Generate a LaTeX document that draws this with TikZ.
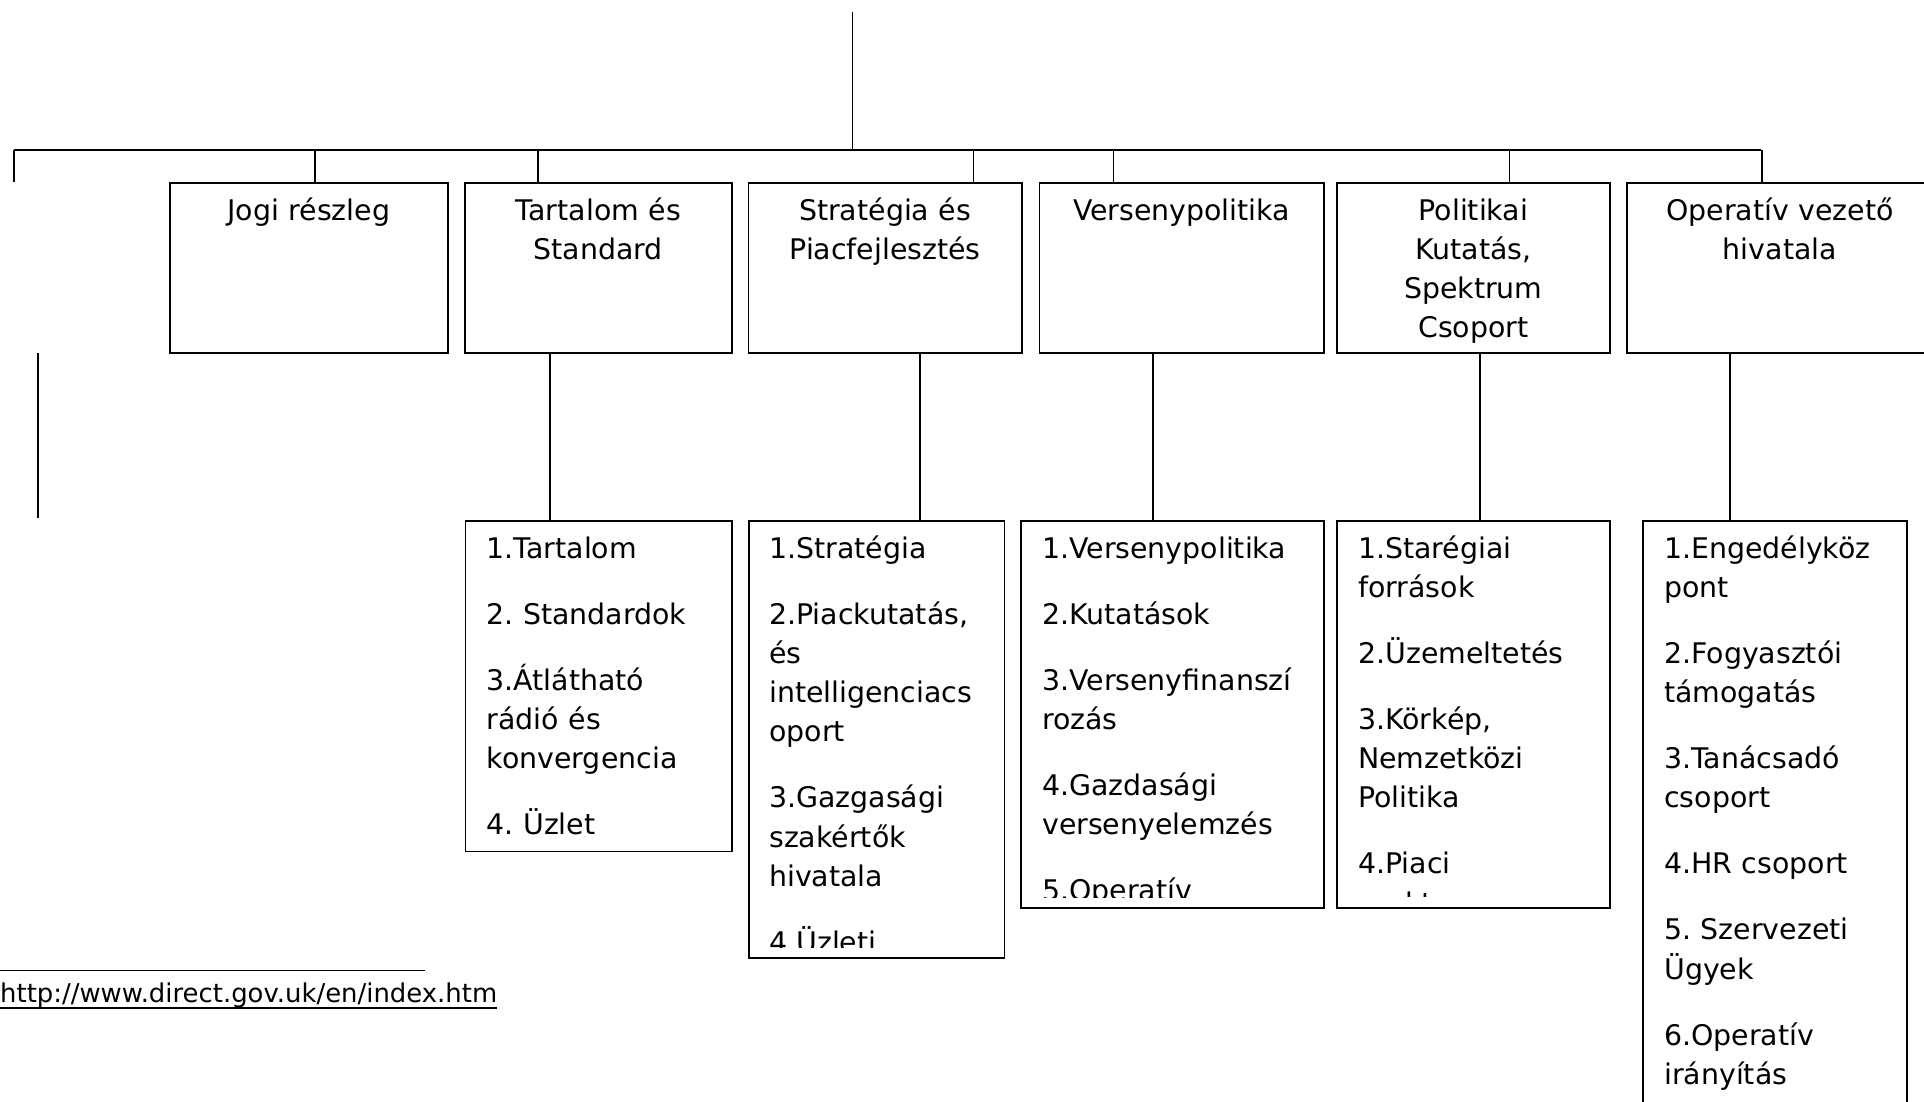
\documentclass[tikz,border=0pt]{standalone}
\usepackage{fontspec}
\setmainfont{DejaVu Sans}
\begin{document}
\frenchspacing
\begin{tikzpicture}[x=1pt,y=-1pt,
  box/.style={draw, line width=1.7pt, inner sep=0pt, anchor=north west},
  head/.style={anchor=base, text width=#1, align=center, inner sep=0pt,
    font=\fontsize{28.4}{39.3}\selectfont},
  list/.style={anchor=base west, text width=300pt, align=left, inner sep=0pt,
    font=\fontsize{28.4}{39.3}\selectfont},
  wire/.style={line width=1.7pt},
  trunk/.style={line width=1.2pt}]

\fill[white] (0,0) rectangle (1924,1101);
\clip (0,0) rectangle (1924,1101);

% ---- department boxes ----
\node[box, minimum width=278,   minimum height=170] (jogi)  at (169,182)   {};
\node[box, minimum width=267,   minimum height=170] (tart)  at (464,182)   {};
\node[box, minimum width=273.5, minimum height=170] (strat) at (747.5,182) {};
\node[box, minimum width=284.5, minimum height=170] (vers)  at (1038.5,182){};
\node[box, minimum width=273,   minimum height=170] (polit) at (1336,182)  {};
\node[box, minimum width=306,   minimum height=170] (oper)  at (1626,182)  {};

\node[head=278]   (jogiT)  at ([yshift=-38]jogi.north)  {Jogi részleg};
\node[head=267]   (tartT)  at ([yshift=-38]tart.north)  {Tartalom és\\Standard};
\node[head=273.5] (stratT) at ([yshift=-38]strat.north) {Stratégia és\\Piacfejlesztés};
\node[head=284.5] (versT)  at ([yshift=-38]vers.north)  {Versenypolitika};
\node[head=273]   (politT) at ([yshift=-38]polit.north) {Politikai\\Kutatás,\\Spektrum\\Csoport};
\node[head=306]   (operT)  at ([yshift=-38]oper.north)  {Operatív vezető\\hivatala};

% ---- sub-unit boxes ----
\node[box, minimum width=266.5, minimum height=330.5] (tartL)  at (464.5,520) {};
\node[box, minimum width=255.5, minimum height=437]   (stratL) at (748,520)   {};
\node[box, minimum width=303,   minimum height=387]   (versL)  at (1020,520)  {};
\node[box, minimum width=273,   minimum height=387]   (politL) at (1336,520)  {};
\node[box, minimum width=264,   minimum height=700]   (operL)  at (1642,520)  {};

\node[list] (tartX) at ([xshift=22,yshift=-38]tartL.north west)
  {1.Tartalom\\[26.7pt]2. Standardok\\[26.7pt]3.Átlátható\\rádió és\\konvergencia\\[26.7pt]4. Üzlet};

% lists that run past their frame are cut short above the frame's lower edge
\begin{scope}
  \clip (stratL.north west) rectangle ([yshift=11.5]stratL.south east);
  \node[list] (stratX) at ([xshift=21,yshift=-38]stratL.north west)
    {1.Stratégia\\[26.7pt]2.Piackutatás,\\és\\intelligenciacs\\oport\\[26.7pt]3.Gazgasági\\szakértők\\hivatala\\[26.7pt]4.Üzleti};
\end{scope}

\begin{scope}
  \clip (versL.north west) rectangle ([yshift=11.5]versL.south east);
  \node[list] (versX) at ([xshift=22,yshift=-38]versL.north west)
    {1.Versenypolitika\\[26.7pt]2.Kutatások\\[26.7pt]3.Versenyfinanszí\\rozás\\[26.7pt]4.Gazdasági\\versenyelemzés\\[26.7pt]5.Operatív};
\end{scope}

\begin{scope}
  \clip (politL.north west) rectangle ([yshift=12.5]politL.south east);
  \node[list] (politX) at ([xshift=22,yshift=-38]politL.north west)
    {1.Starégiai\\források\\[26.7pt]2.Üzemeltetés\\[26.7pt]3.Körkép,\\Nemzetközi\\Politika\\[26.7pt]4.Piaci\\szektor};
\end{scope}

\node[list] (operX) at ([xshift=22,yshift=-38]operL.north west)
  {1.Engedélyköz\\pont\\[26.7pt]2.Fogyasztói\\támogatás\\[26.7pt]3.Tanácsadó\\csoport\\[26.7pt]4.HR csoport\\[26.7pt]5. Szervezeti\\Ügyek\\[26.7pt]6.Operatív\\irányítás};

% ---- trunk and bus ----
\coordinate (top)  at (852.5,12);
\coordinate (bus)  at (852.5,150);
\coordinate (busL) at (14,150);
\coordinate (busR) at (1761,150);
\coordinate (stub) at (14,182);
\draw[trunk] (top) -- (bus);
\draw[wire] (busL) -- (busR);
\draw[wire] (busL) -- (stub);

% drops from the bus to each department
\draw[wire] ([xshift=6]jogi.north)      -- ([xshift=6]jogi.north |- bus);
\draw[wire] ([xshift=-60.5]tart.north)  -- ([xshift=-60.5]tart.north |- bus);
\draw[wire] ([xshift=88.25]strat.north) -- ([xshift=88.25]strat.north |- bus);
\draw[wire] ([xshift=-68.15]vers.north) -- ([xshift=-68.15]vers.north |- bus);
\draw[wire] ([xshift=36.1]polit.north)  -- ([xshift=36.1]polit.north |- bus);
\draw[wire] ([xshift=-18]oper.north)    -- ([xshift=-18]oper.north |- bus);

% links from departments to their sub-units
\draw[wire] ([xshift=-48.5]tart.south)  -- ([xshift=-48.5]tart.south |- tartL.north);
\draw[wire] ([xshift=34.75]strat.south) -- ([xshift=34.75]strat.south |- stratL.north);
\draw[wire] ([xshift=-28.75]vers.south) -- ([xshift=-28.75]vers.south |- versL.north);
\draw[wire] ([xshift=6.5]polit.south)   -- ([xshift=6.5]polit.south |- politL.north);
\draw[wire] ([xshift=-50]oper.south)    -- ([xshift=-50]oper.south |- operL.north);

% lone vertical rule on the left
\coordinate (sideA) at (37.7,353);
\coordinate (sideB) at (37.7,518);
\draw[wire] (sideA) -- (sideB);

% footnote rule and link
\coordinate (ruleA) at (0,970.5);
\coordinate (ruleB) at (425,970.5);
\draw[line width=1.6pt] (ruleA) -- (ruleB);
\node[anchor=base west, inner sep=0pt, font=\fontsize{25.9}{30}\selectfont] (url)
  at (0,1002.5) {http://www.direct.gov.uk/en/index.htm};
\draw[line width=1.6pt] ([yshift=-5.5]url.base west) -- ([yshift=-5.5]url.base east);

\end{tikzpicture}
\end{document}
